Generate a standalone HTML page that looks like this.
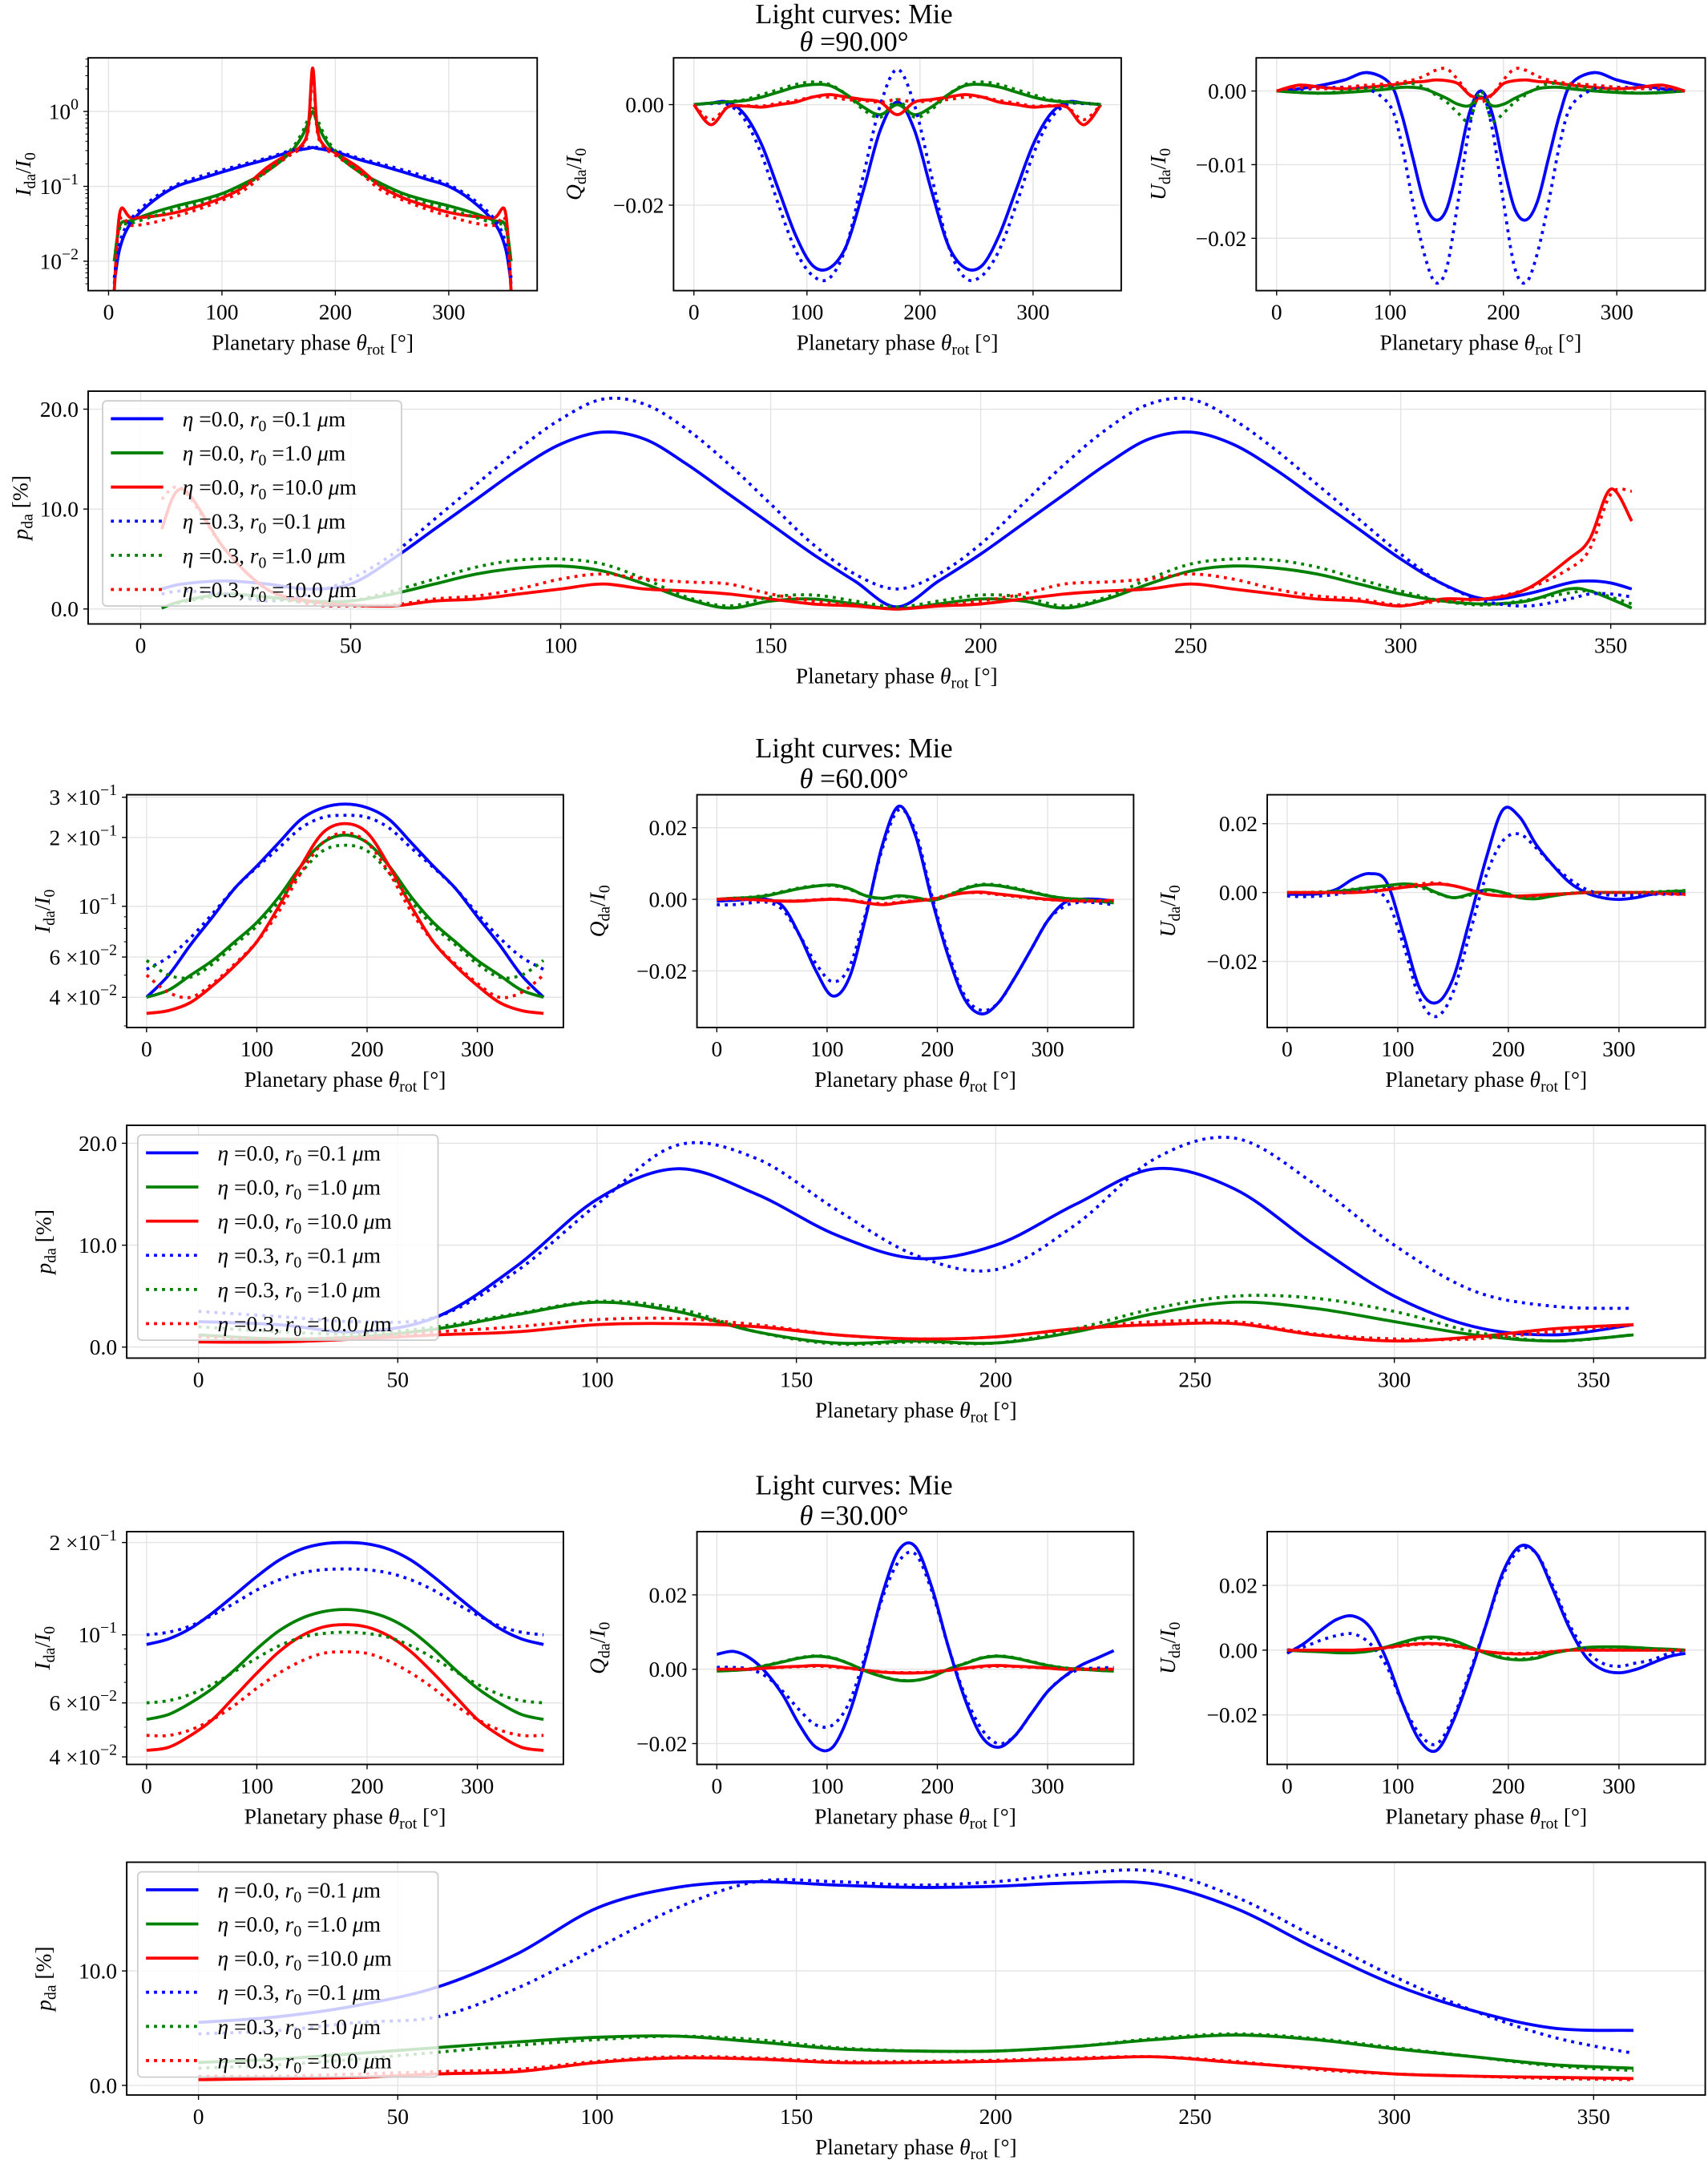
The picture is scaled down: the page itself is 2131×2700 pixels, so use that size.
<!DOCTYPE html>
<html><head><meta charset="utf-8"><title>Light curves: Mie</title>
<style>html,body{margin:0;padding:0;background:#fff}svg{display:block}text{font-family:"Liberation Serif","DejaVu Serif",serif;fill:#000}</style>
</head><body>
<svg id="fig" xmlns="http://www.w3.org/2000/svg" width="2131" height="2700" viewBox="0 0 1240 1571.1" preserveAspectRatio="none"></svg>
<script>
// ---------------- DATA ----------------
const x15 = [0,15,30,45,60,75,90,105,120,135,150,165,180,195,210,225,240,255,270,285,300,315,330,345,360];
const x20 = [0,20,40,60,80,100,120,140,160,180,200,220,240,260,280,300,320,340,360];
// Row 1 (theta = 90)
const r1I_x = [5,10,20,40,60,80,100,120,140,160,170,176,180,184,190,200,220,240,260,280,300,320,340,350,355];
const r1I_b0 = [0.005,0.015,0.033,0.065,0.1,0.125,0.155,0.19,0.23,0.29,0.31,0.32,0.33,0.32,0.31,0.29,0.23,0.19,0.155,0.125,0.1,0.065,0.033,0.015,0.005];
const r1I_g0 = [0.01,0.03,0.035,0.045,0.055,0.065,0.08,0.11,0.16,0.28,0.45,0.7,1.0,0.7,0.45,0.28,0.16,0.11,0.08,0.065,0.055,0.045,0.035,0.03,0.01];
const r1I_r0 = [0.004,0.045,0.038,0.04,0.045,0.055,0.07,0.1,0.18,0.28,0.35,0.6,3.8,0.6,0.35,0.28,0.18,0.1,0.07,0.055,0.045,0.04,0.038,0.045,0.004];
const r1I_b3 = [0.006,0.018,0.037,0.07,0.105,0.135,0.165,0.2,0.24,0.3,0.32,0.33,0.34,0.33,0.32,0.3,0.24,0.2,0.165,0.135,0.105,0.07,0.037,0.018,0.006];
const r1I_g3 = [0.01,0.028,0.032,0.04,0.05,0.06,0.078,0.105,0.16,0.3,0.5,0.8,1.1,0.8,0.5,0.3,0.16,0.105,0.078,0.06,0.05,0.04,0.032,0.028,0.01];
const r1I_r3 = [0.004,0.035,0.03,0.033,0.04,0.05,0.065,0.09,0.16,0.26,0.33,0.55,3.0,0.55,0.33,0.26,0.16,0.09,0.065,0.05,0.04,0.033,0.03,0.035,0.004];

const r1Q_b0 = [0,0.0003,0.0005,-0.002,-0.008,-0.017,-0.026,-0.032,-0.0325,-0.028,-0.017,-0.005,0.0005,-0.005,-0.017,-0.028,-0.0325,-0.032,-0.026,-0.017,-0.008,-0.002,0.0005,0.0003,0];
const r1Q_g0 = [0,0.0003,0.0005,0.0008,0.0015,0.0025,0.0035,0.004,0.0038,0.002,-0.0005,-0.002,0,-0.002,-0.0005,0.002,0.0038,0.004,0.0035,0.0025,0.0015,0.0008,0.0005,0.0003,0];
const r1Q_r0 = [0,-0.004,-0.0005,-0.0003,-0.0005,0,0.0005,0.0015,0.002,0.0015,0.001,0.0005,-0.002,0.0005,0.001,0.0015,0.002,0.0015,0.0005,0,-0.0005,-0.0003,-0.0005,-0.004,0];
const r1Q_b3 = [0,0.0002,0.0,-0.003,-0.01,-0.02,-0.029,-0.034,-0.0345,-0.028,-0.014,0.0,0.007,0.0,-0.014,-0.028,-0.0345,-0.034,-0.029,-0.02,-0.01,-0.003,0.0,0.0002,0];
const r1Q_g3 = [0,0.0003,0.0006,0.001,0.002,0.003,0.004,0.0045,0.004,0.002,-0.001,-0.0025,0.001,-0.0025,-0.001,0.002,0.004,0.0045,0.004,0.003,0.002,0.001,0.0006,0.0003,0];
const r1Q_r3 = [0,-0.003,-0.0005,-0.0002,-0.0003,0.0003,0.0008,0.0015,0.0015,0.001,0.0008,0.0005,0.001,0.0005,0.0008,0.001,0.0015,0.0015,0.0008,0.0003,-0.0003,-0.0002,-0.0005,-0.003,0];

const r1U_x = [0,20,40,60,80,100,110,120,130,140,150,160,170,180,190,200,210,220,230,240,250,260,280,300,320,340,360];
const r1U_b0 = [0,0.0003,0.0008,0.0015,0.0025,0.001,-0.003,-0.009,-0.015,-0.0175,-0.016,-0.01,-0.003,0,-0.003,-0.01,-0.016,-0.0175,-0.015,-0.009,-0.003,0.001,0.0025,0.0015,0.0008,0.0003,0];
const r1U_g0 = [0,-0.0002,-0.0003,-0.0002,0,0.0003,0.0005,0.0005,0.0003,-0.0003,-0.001,-0.0018,-0.002,-0.0008,-0.002,-0.0018,-0.001,-0.0003,0.0003,0.0005,0.0005,0.0003,0,-0.0002,-0.0003,-0.0002,0];
const r1U_r0 = [0,0.0008,0.0005,0.0003,0.0005,0.0008,0.001,0.0012,0.0013,0.0015,0.0014,0.001,-0.0005,-0.001,-0.0005,0.001,0.0014,0.0015,0.0013,0.0012,0.001,0.0008,0.0005,0.0003,0.0005,0.0008,0];
const r1U_b3 = [0,0.0002,0.0004,0.0005,0.0003,-0.002,-0.007,-0.015,-0.022,-0.026,-0.024,-0.015,-0.005,0,-0.005,-0.015,-0.024,-0.026,-0.022,-0.015,-0.007,-0.002,0.0003,0.0005,0.0004,0.0002,0];
const r1U_g3 = [0,-0.0002,-0.0003,0,0.0003,0.0007,0.001,0.001,0.0005,-0.0005,-0.0015,-0.003,-0.004,0.0,-0.004,-0.003,-0.0015,-0.0005,0.0005,0.001,0.001,0.0007,0.0003,0,-0.0003,-0.0002,0];
const r1U_r3 = [0,0.0005,0.0003,0.0005,0.0008,0.001,0.0012,0.0015,0.002,0.0028,0.003,0.0015,-0.0005,-0.0015,-0.0005,0.0015,0.003,0.0028,0.002,0.0015,0.0012,0.001,0.0008,0.0005,0.0003,0.0005,0];

const r1P_x = [5,10,20,30,40,50,60,70,80,90,100,110,120,130,140,150,160,170,180,190,200,210,220,230,240,250,260,270,280,290,300,310,320,330,340,345,350,355];
const r1P_b0 = [2,2.5,2.8,2.5,2.0,2.5,5,8,11,14,16.5,17.7,17,14.5,11.5,8.5,5.5,2.8,0.2,2.8,5.5,8.5,11.5,14.5,17,17.7,16.5,14,11,8,5,2.5,1,1.5,2.6,2.8,2.6,2];
const r1P_g0 = [0.1,0.8,1.5,1.2,0.8,0.8,1.5,2.5,3.5,4.1,4.3,3.8,2.5,1,0.1,0.8,1,0.5,0,0.5,1,0.8,0.1,1,2.5,3.8,4.3,4.1,3.5,2.5,1.5,0.8,0.5,0.8,2.0,1.8,1,0.1];
const r1P_r0 = [8,12,6,2,0.8,0.4,0.3,0.8,1.0,1.5,2.0,2.5,2.0,1.8,1.5,1.0,0.5,0.3,0,0.3,0.5,1.0,1.5,1.8,2.0,2.5,2.0,1.5,1.0,0.8,0.3,1.0,1.0,2.0,5,7,12,8.8];
const r1P_b3 = [1.5,1.8,1.5,0.8,1.5,3,5.5,9,12.5,16,19,21,20.5,18,14.5,10.5,6.5,3.5,2,3.5,6.5,10.5,14.5,18,20.5,21,19,16,12.5,9,5.5,2.5,0.8,0.3,1,1.5,1.5,1.2];
const r1P_g3 = [0.1,0.7,1.3,1.0,0.7,0.8,1.8,3,4.2,4.9,5,4.5,3,1.2,0.3,1.2,1.4,0.8,0.2,0.8,1.4,1.2,0.3,1.2,3,4.5,5,4.9,4.2,3,1.8,0.8,0.4,0.9,1.6,1.8,1.2,0.5];
const r1P_r3 = [11,12,6,2,0.5,0.3,0.4,1,1.3,2,3,3.5,3,2.7,2.5,1.5,0.8,0.4,0,0.4,0.8,1.5,2.5,2.7,3,3.5,3,2,1.3,1,0.4,0.8,1,2,4,6,11.5,11.8];

// Row 2 (theta = 60)
const r2I_b0 = [0.04,0.05,0.068,0.09,0.12,0.15,0.19,0.24,0.27,0.28,0.27,0.24,0.19,0.15,0.12,0.09,0.068,0.05,0.04];
const r2I_g0 = [0.04,0.043,0.05,0.058,0.07,0.085,0.11,0.15,0.19,0.205,0.19,0.15,0.11,0.085,0.07,0.058,0.05,0.043,0.04];
const r2I_r0 = [0.034,0.035,0.038,0.045,0.055,0.07,0.1,0.15,0.21,0.23,0.21,0.15,0.1,0.07,0.055,0.045,0.038,0.035,0.034];
const r2I_b3 = [0.053,0.06,0.073,0.093,0.12,0.148,0.18,0.22,0.245,0.25,0.245,0.22,0.18,0.148,0.12,0.093,0.073,0.06,0.053];
const r2I_g3 = [0.058,0.05,0.049,0.056,0.068,0.082,0.105,0.14,0.175,0.185,0.175,0.14,0.105,0.082,0.068,0.056,0.049,0.05,0.058];
const r2I_r3 = [0.05,0.042,0.04,0.046,0.056,0.07,0.095,0.14,0.19,0.21,0.19,0.14,0.095,0.07,0.056,0.046,0.04,0.042,0.05];

const r2Q_b0 = [-0.0005,-0.0003,0,0,-0.002,-0.01,-0.02,-0.027,-0.022,-0.005,0.015,0.026,0.018,0,-0.016,-0.028,-0.032,-0.029,-0.022,-0.014,-0.006,-0.001,0,0,-0.0005];
const r2Q_g0 = [0,0.0003,0.0005,0.001,0.002,0.003,0.0037,0.004,0.003,0.001,0.0003,0.001,0.0005,-0.0003,0.001,0.003,0.004,0.0038,0.003,0.002,0.001,0.0003,0,-0.0005,-0.001];
const r2Q_r0 = [0,0.0002,0,-0.0003,-0.0005,-0.0005,-0.0002,0,-0.0003,-0.001,-0.0015,-0.001,-0.0005,0,0.001,0.0018,0.002,0.0015,0.001,0.0005,0,-0.0003,-0.0005,-0.0005,-0.0003];
const r2Q_b3 = [-0.0015,-0.0015,-0.001,-0.0008,-0.003,-0.01,-0.018,-0.023,-0.019,-0.004,0.014,0.025,0.019,0.001,-0.015,-0.027,-0.031,-0.029,-0.022,-0.014,-0.006,-0.002,-0.0008,-0.001,-0.0015];
const r2Q_g3 = [0,0.0003,0.0006,0.0012,0.0022,0.0032,0.0038,0.0038,0.0028,0.001,0.0002,0.0008,0.0004,-0.0002,0.0012,0.0032,0.0042,0.004,0.0032,0.0022,0.0011,0.0003,0,-0.0004,-0.0008];
const r2Q_r3 = [0,0,-0.0002,-0.0004,-0.0005,-0.0004,-0.0001,0.0001,-0.0002,-0.0008,-0.0012,-0.0008,-0.0003,0.0002,0.0012,0.0018,0.0018,0.0013,0.0008,0.0003,-0.0001,-0.0003,-0.0004,-0.0004,-0.0002];

const r2U_b0 = [-0.0005,-0.0005,-0.0003,0.001,0.004,0.0055,0.003,-0.012,-0.028,-0.032,-0.025,-0.008,0.01,0.024,0.022,0.014,0.008,0.003,0,-0.0015,-0.002,-0.0015,-0.0005,0,0];
const r2U_g0 = [0,0,0,0.0003,0.0008,0.0015,0.002,0.0025,0.002,0,-0.0015,-0.0005,0.0008,0,-0.0015,-0.0018,-0.001,-0.0003,0,0,0,0,0,0.0003,0.0005];
const r2U_r0 = [0,0,0,0,0,0.0003,0.0008,0.0015,0.002,0.0025,0.002,0.0008,-0.0005,-0.001,-0.001,-0.0008,-0.0005,-0.0003,0,0,0,0,0,-0.0003,-0.0005];
const r2U_b3 = [-0.001,-0.0012,-0.001,-0.0005,0.0003,0.0005,-0.002,-0.015,-0.031,-0.036,-0.029,-0.012,0.005,0.015,0.017,0.013,0.008,0.004,0.001,-0.0005,-0.0008,-0.0008,-0.0005,-0.0005,-0.0003];
const r2U_g3 = [0,0,0.0002,0.0005,0.001,0.0015,0.0018,0.002,0.0015,-0.0002,-0.0015,-0.0008,0.0005,0,-0.0012,-0.0015,-0.0008,-0.0002,0,0,0,0,0.0002,0.0004,0.0006];
const r2U_r3 = [0,0,0,0,0.0002,0.0005,0.001,0.0018,0.0025,0.0028,0.002,0.0008,-0.0005,-0.001,-0.0012,-0.001,-0.0006,-0.0003,0,0,0,0,-0.0002,-0.0004,-0.0006];

const r2P_b0 = [2.5,2.2,1.5,3,8,14.5,17.5,15,11,8.7,10,14,17.5,15.5,10,5,2.0,1.2,2.2];
const r2P_g0 = [1.2,0.8,1.0,1.8,3.2,4.4,3.5,1.5,0.4,0.6,0.4,1.5,3.3,4.4,3.8,2.5,1.2,0.6,1.2];
const r2P_r0 = [0.5,0.5,0.8,1.2,1.5,2.2,2.3,2.0,1.2,0.8,1.0,1.8,2.2,2.3,1.2,0.6,1.0,1.8,2.2];
const r2P_b3 = [3.5,3.0,2.5,3,7.5,14,19.8,18.5,13.5,9,7.6,12,18.5,20.5,16,10,5.5,4,3.8];
const r2P_g3 = [2,1.5,1.3,2,3.3,4.5,3.8,1.5,0.3,0.5,0.4,1.8,3.8,5,4.8,3.5,1.5,0.6,1.2];
const r2P_r3 = [1,0.8,1,1.5,2,2.7,2.8,2.2,1.2,0.8,1.0,1.8,2.5,2.5,1.3,0.8,0.8,1.5,2.2];

// Row 3 (theta = 30)
const r3I_b0 = [0.093,0.097,0.105,0.118,0.135,0.155,0.175,0.19,0.198,0.2,0.198,0.19,0.175,0.155,0.135,0.118,0.105,0.097,0.093];
const r3I_g0 = [0.053,0.055,0.06,0.067,0.077,0.09,0.103,0.113,0.119,0.121,0.119,0.113,0.103,0.09,0.077,0.067,0.06,0.055,0.053];
const r3I_r0 = [0.042,0.043,0.047,0.053,0.063,0.075,0.088,0.099,0.106,0.108,0.106,0.099,0.088,0.075,0.063,0.053,0.047,0.043,0.042];
const r3I_b3 = [0.1,0.102,0.107,0.116,0.127,0.14,0.151,0.159,0.163,0.164,0.163,0.159,0.151,0.14,0.127,0.116,0.107,0.102,0.1];
const r3I_g3 = [0.06,0.061,0.064,0.069,0.076,0.084,0.092,0.098,0.101,0.102,0.101,0.098,0.092,0.084,0.076,0.069,0.064,0.061,0.06];
const r3I_r3 = [0.047,0.047,0.049,0.053,0.059,0.067,0.075,0.082,0.087,0.088,0.087,0.082,0.075,0.067,0.059,0.053,0.049,0.047,0.047];

const r3Q_b0 = [0.004,0.0048,0.003,-0.001,-0.007,-0.015,-0.021,-0.021,-0.012,0.003,0.02,0.032,0.033,0.022,0.006,-0.008,-0.018,-0.021,-0.018,-0.012,-0.006,-0.002,0.001,0.003,0.005];
const r3Q_g0 = [-0.0005,-0.0003,0,0.001,0.002,0.003,0.0035,0.003,0.0015,-0.0005,-0.002,-0.003,-0.003,-0.002,0,0.0015,0.003,0.0035,0.003,0.002,0.001,0.0003,0,-0.0003,-0.0005];
const r3Q_r0 = [0,0,0,0.0003,0.0006,0.0008,0.001,0.0008,0.0003,-0.0003,-0.0008,-0.001,-0.001,-0.0008,-0.0003,0.0003,0.0008,0.001,0.0008,0.0006,0.0003,0,0,0,0];
const r3Q_b3 = [0.0005,0.0005,0,-0.002,-0.006,-0.011,-0.015,-0.015,-0.009,0.004,0.019,0.029,0.031,0.021,0.006,-0.007,-0.016,-0.02,-0.018,-0.012,-0.006,-0.002,0,0.0003,0.0005];
const r3Q_g3 = [-0.0003,-0.0002,0.0001,0.0011,0.0021,0.0031,0.0036,0.0031,0.0015,-0.0004,-0.0019,-0.0029,-0.003,-0.002,0,0.0016,0.0031,0.0036,0.0031,0.0021,0.0011,0.0004,0,-0.0002,-0.0003];
const r3Q_r3 = [0,0,0.0001,0.0003,0.0005,0.0007,0.0008,0.0006,0.0002,-0.0003,-0.0007,-0.0009,-0.0009,-0.0007,-0.0003,0.0002,0.0006,0.0008,0.0007,0.0005,0.0003,0.0001,0,0,0];

const r3U_b0 = [-0.001,0.002,0.006,0.0095,0.0105,0.007,-0.003,-0.017,-0.028,-0.031,-0.022,-0.008,0.008,0.024,0.032,0.03,0.019,0.007,-0.002,-0.006,-0.007,-0.006,-0.004,-0.002,-0.001];
const r3U_g0 = [0,-0.0003,-0.0005,-0.0008,-0.0008,-0.0003,0.001,0.0025,0.0038,0.004,0.003,0.001,-0.001,-0.0025,-0.003,-0.0025,-0.001,0,0.0008,0.001,0.001,0.0008,0.0005,0.0003,0];
const r3U_r0 = [0,0,0,0,0,0.0003,0.0008,0.0015,0.002,0.002,0.0015,0.0005,-0.0005,-0.001,-0.0012,-0.001,-0.0005,0,0,0,0,0,0,0,0];
const r3U_b3 = [0,0.001,0.003,0.0045,0.005,0.002,-0.005,-0.017,-0.026,-0.029,-0.021,-0.007,0.008,0.023,0.031,0.03,0.02,0.008,0,-0.004,-0.005,-0.004,-0.003,-0.001,0];
const r3U_g3 = [0,-0.0002,-0.0004,-0.0006,-0.0006,-0.0002,0.001,0.0023,0.0034,0.0036,0.0027,0.0009,-0.0009,-0.0022,-0.0027,-0.0022,-0.0009,0,0.0007,0.0009,0.0009,0.0007,0.0004,0.0002,0];
const r3U_r3 = [0,0,0,0,0,0.0003,0.0007,0.0013,0.0018,0.0018,0.0013,0.0004,-0.0005,-0.0009,-0.001,-0.0008,-0.0004,0,0,0,0,0,0,0,0];

const r3P_b0 = [5.5,6,7,8.6,11.5,15.5,17.3,17.8,17.5,17.3,17.4,17.7,17.6,15.5,12,8.8,6.5,5,4.8];
const r3P_g0 = [2,2.3,2.8,3.3,3.8,4.2,4.3,3.8,3.2,3,3,3.4,4,4.4,4,3.2,2.5,1.8,1.5];
const r3P_r0 = [0.5,0.6,0.7,1,1.2,2,2.4,2.3,2,2,2.1,2.3,2.5,2,1.5,1,0.8,0.7,0.6];
const r3P_b3 = [4.5,4.8,5.5,6,8.5,12,15.5,17.8,17.8,17.5,17.8,18.5,18.7,16.5,13,9.5,6.5,4.2,2.8];
const r3P_g3 = [1.5,1.8,2.3,2.9,3.5,4,4.3,4,3.3,3,3,3.4,4.1,4.5,4.1,3.3,2.5,1.7,1.3];
const r3P_r3 = [0.8,0.8,1,1.2,1.4,2.1,2.5,2.4,2.1,2.1,2.2,2.4,2.5,2.1,1.4,1,0.8,0.6,0.5];

const smallXTicks = [0,100,200,300];
const bigXTicks = [0,50,100,150,200,250,300,350];
const legendLabels = [["0.0","0.1"],["0.0","1.0"],["0.0","10.0"],["0.3","0.1"],["0.3","1.0"],["0.3","10.0"]];
const titleThetas = ["90.00","60.00","30.00"];

// ---------------- DRAWING ----------------
const NS = 'http://www.w3.org/2000/svg';
const svg = document.getElementById('fig');
const defs = document.createElementNS(NS, 'defs');
svg.appendChild(defs);
const COLORS = ['#0000ff','#008000','#ff0000','#0000ff','#008000','#ff0000'];
let clipId = 0;

function mk(tag, attrs, parent) {
  const e = document.createElementNS(NS, tag);
  for (const k in attrs) e.setAttribute(k, attrs[k]);
  (parent || svg).appendChild(e);
  return e;
}
function smooth(pts) {
  let d = 'M' + pts[0][0].toFixed(2) + ',' + pts[0][1].toFixed(2);
  for (let i = 0; i < pts.length - 1; i++) {
    const p0 = pts[Math.max(0, i - 1)], p1 = pts[i], p2 = pts[i + 1], p3 = pts[Math.min(pts.length - 1, i + 2)];
    const c1x = p1[0] + (p2[0] - p0[0]) / 6, c1y = p1[1] + (p2[1] - p0[1]) / 6;
    const c2x = p2[0] - (p3[0] - p1[0]) / 6, c2y = p2[1] - (p3[1] - p1[1]) / 6;
    d += 'C' + c1x.toFixed(2) + ',' + c1y.toFixed(2) + ' ' + c2x.toFixed(2) + ',' + c2y.toFixed(2) + ' ' + p2[0].toFixed(2) + ',' + p2[1].toFixed(2);
  }
  return d;
}
function sub(s) { return '<tspan dy="3.5" font-size="11.5">' + s + '</tspan><tspan dy="-3.5">'; }
const XLAB = 'Planetary phase <tspan font-style="italic">θ</tspan>' + sub('rot') + ' [°]</tspan>';

function panel(p) {
  const g = mk('g', {});
  
  
  const W = p.x1 - p.x0, H = p.y1 - p.y0;
  const sx = v => p.x0 + (v - p.xd[0]) / (p.xd[1] - p.xd[0]) * W;
  const sy = p.log
    ? v => p.y1 - (Math.log10(v) - Math.log10(p.yd[0])) / (Math.log10(p.yd[1]) - Math.log10(p.yd[0])) * H
    : v => p.y1 - (v - p.yd[0]) / (p.yd[1] - p.yd[0]) * H;
  p.xt.forEach(t => { const l = mk('line', {x1: sx(t), x2: sx(t), y1: p.y0, y2: p.y1, stroke: '#e3e3e3', 'stroke-width': 0.8}, g);   });
  p.yt.forEach(t => { const l = mk('line', {x1: p.x0, x2: p.x1, y1: sy(t), y2: sy(t), stroke: '#e3e3e3', 'stroke-width': 0.8}, g);   });
  const cid = 'clip' + (clipId++);
  const cp = mk('clipPath', {id: cid}, defs);
  mk('rect', {x: p.x0, y: p.y0, width: W, height: H}, cp);
  const sg = mk('g', {'clip-path': 'url(#' + cid + ')'}, g);
  p.series.forEach((s, i) => {
    const pts = s.x.map((xv, j) => [sx(xv), sy(s.y[j])]);
    const path = mk('path', {d: smooth(pts), fill: 'none', stroke: COLORS[i], 'stroke-width': 2.2, 'stroke-linejoin': 'round'}, sg);
    if (i >= 3) path.setAttribute('stroke-dasharray', '2.2,3.6');
    
    
  });
  const fr = mk('rect', {x: p.x0, y: p.y0, width: W, height: H, fill: 'none', stroke: '#000', 'stroke-width': 1.1}, g);
  
  
  p.xt.forEach(t => {
    mk('line', {x1: sx(t), x2: sx(t), y1: p.y1, y2: p.y1 + 3.5, stroke: '#000', 'stroke-width': 0.8}, g);
    const tx = mk('text', {x: sx(t), y: p.y1 + 21, 'font-size': 16, 'text-anchor': 'middle'}, g);
    tx.textContent = t;
    
    
  });
  p.yt.forEach((t, i) => {
    mk('line', {x1: p.x0 - 3.5, x2: p.x0, y1: sy(t), y2: sy(t), stroke: '#000', 'stroke-width': 0.8}, g);
    const tx = mk('text', {x: p.x0 - 7, y: sy(t) + 5.5, 'font-size': 16, 'text-anchor': 'end'}, g);
    tx.innerHTML = p.ytl[i];
    
    
  });
  if (p.log) {
    const lo = Math.floor(Math.log10(p.yd[0])), hi = Math.ceil(Math.log10(p.yd[1]));
    for (let d = lo; d <= hi; d++) for (let k = 2; k <= 9; k++) {
      const v = k * Math.pow(10, d);
      if (v > p.yd[0] && v < p.yd[1]) mk('line', {x1: p.x0 - 2, x2: p.x0, y1: sy(v), y2: sy(v), stroke: '#000', 'stroke-width': 0.6}, g);
    }
  }
  const xl = mk('text', {x: (p.x0 + p.x1) / 2, y: p.y1 + 43, 'font-size': 16, 'text-anchor': 'middle'}, g);
  xl.innerHTML = XLAB;
  
  
  const yc = (p.y0 + p.y1) / 2;
  const yl = mk('text', {x: p.ylx, y: yc, 'font-size': 16, 'text-anchor': 'middle', transform: 'rotate(-90 ' + p.ylx + ' ' + yc + ')'}, g);
  yl.innerHTML = p.ylab;
  
  
  if (p.legend) {
    const L = p.legend;
    const lg = mk('g', {}, g);
    
    
    mk('rect', {x: L.x, y: L.y, width: L.w, height: 149, rx: 3, fill: '#fff', 'fill-opacity': 0.8, stroke: '#cccccc', 'stroke-width': 1}, lg);
    legendLabels.forEach((lab, i) => {
      const yy = L.y + 13 + i * 24.8;
      const ln = mk('line', {x1: L.x + 6, x2: L.x + 44, y1: yy, y2: yy, stroke: COLORS[i], 'stroke-width': 2.2}, lg);
      if (i >= 3) ln.setAttribute('stroke-dasharray', '2.2,3.6');
      
      
      const tx = mk('text', {x: L.x + 58, y: yy + 5.5, 'font-size': 16}, lg);
      tx.innerHTML = '<tspan font-style="italic">η</tspan> =' + lab[0] + ', <tspan font-style="italic">r</tspan>' + sub('0') + ' =' + lab[1] + ' <tspan font-style="italic">μ</tspan>m</tspan>';
      
      
    });
  }
}
function ser(x, arrs) {
  const keys = ['eta0-r0.1', 'eta0-r1', 'eta0-r10', 'eta0.3-r0.1', 'eta0.3-r1', 'eta0.3-r10'];
  return arrs.map((a, i) => ({x: x, y: a, key: keys[i]}));
}
const sup = (m, e) => (m ? m + '×' : '') + '10<tspan dy="-7" font-size="11.5">' + e + '</tspan>';
const YI = '<tspan font-style="italic">I</tspan>' + sub('da') + '/<tspan font-style="italic">I</tspan>' + sub('0') + '</tspan></tspan>';
const YQ = '<tspan font-style="italic">Q</tspan>' + sub('da') + '/<tspan font-style="italic">I</tspan>' + sub('0') + '</tspan></tspan>';
const YU = '<tspan font-style="italic">U</tspan>' + sub('da') + '/<tspan font-style="italic">I</tspan>' + sub('0') + '</tspan></tspan>';
const YP = '<tspan font-style="italic">p</tspan>' + sub('da') + ' [%]</tspan>';
const SXD = [-18, 378];

[[10, 30], [543, 565], [1078, 1100]].forEach((ty, i) => {
  const t1 = mk('text', {x: 620, y: ty[0] + 7, 'font-size': 20, 'text-anchor': 'middle'});
  t1.textContent = 'Light curves: Mie';
  
  
  const t2 = mk('text', {x: 620, y: ty[1] + 7, 'font-size': 20, 'text-anchor': 'middle'});
  t2.innerHTML = '<tspan font-style="italic">θ</tspan> =' + titleThetas[i] + '°';
  
  
});

panel({name: 'intensity-panel-90', x0: 64, x1: 390, y0: 42, y1: 211, xd: SXD, yd: [0.00405, 5.2], log: true, xt: smallXTicks, yt: [1, 0.1, 0.01], ytl: [sup('', '0'), sup('', '−1'), sup('', '−2')], ylx: 22, ylab: YI,
  series: ser(r1I_x, [r1I_b0, r1I_g0, r1I_r0, r1I_b3, r1I_g3, r1I_r3])});
panel({name: 'q-panel-90', x0: 489, x1: 814, y0: 42, y1: 211, xd: SXD, yd: [-0.037, 0.0093], xt: smallXTicks, yt: [0, -0.02], ytl: ['0.00', '−0.02'], ylx: 422, ylab: YQ,
  series: ser(x15, [r1Q_b0, r1Q_g0, r1Q_r0, r1Q_b3, r1Q_g3, r1Q_r3])});
panel({name: 'u-panel-90', x0: 912, x1: 1238, y0: 42, y1: 211, xd: SXD, yd: [-0.0271, 0.0045], xt: smallXTicks, yt: [0, -0.01, -0.02], ytl: ['0.00', '−0.01', '−0.02'], ylx: 846, ylab: YU,
  series: ser(r1U_x, [r1U_b0, r1U_g0, r1U_r0, r1U_b3, r1U_g3, r1U_r3])});
panel({name: 'polarization-panel-90', x0: 64, x1: 1238, y0: 284, y1: 453, xd: [-12.5, 372.5], yd: [-1.5, 21.8], xt: bigXTicks, yt: [0, 10, 20], ytl: ['0.0', '10.0', '20.0'], ylx: 20, ylab: YP,
  series: ser(r1P_x, [r1P_b0, r1P_g0, r1P_r0, r1P_b3, r1P_g3, r1P_r3]), legend: {x: 74.5, y: 291, w: 217}});

panel({name: 'intensity-panel-60', x0: 92, x1: 409, y0: 577, y1: 746, xd: SXD, yd: [0.0295, 0.3076], log: true, xt: smallXTicks, yt: [0.3, 0.2, 0.1, 0.06, 0.04], ytl: [sup('3 ', '−1'), sup('2 ', '−1'), sup('', '−1'), sup('6 ', '−2'), sup('4 ', '−2')], ylx: 36, ylab: YI,
  series: ser(x20, [r2I_b0, r2I_g0, r2I_r0, r2I_b3, r2I_g3, r2I_r3])});
panel({name: 'q-panel-60', x0: 506, x1: 823, y0: 577, y1: 746, xd: SXD, yd: [-0.0358, 0.0292], xt: smallXTicks, yt: [0.02, 0, -0.02], ytl: ['0.02', '0.00', '−0.02'], ylx: 439, ylab: YQ,
  series: ser(x15, [r2Q_b0, r2Q_g0, r2Q_r0, r2Q_b3, r2Q_g3, r2Q_r3])});
panel({name: 'u-panel-60', x0: 920, x1: 1238, y0: 577, y1: 746, xd: SXD, yd: [-0.0392, 0.0284], xt: smallXTicks, yt: [0.02, 0, -0.02], ytl: ['0.02', '0.00', '−0.02'], ylx: 853, ylab: YU,
  series: ser(x15, [r2U_b0, r2U_g0, r2U_r0, r2U_b3, r2U_g3, r2U_r3])});
panel({name: 'polarization-panel-60', x0: 92, x1: 1238, y0: 817, y1: 986, xd: [-18, 378], yd: [-1.08, 21.76], xt: bigXTicks, yt: [0, 10, 20], ytl: ['0.0', '10.0', '20.0'], ylx: 37, ylab: YP,
  series: ser(x20, [r2P_b0, r2P_g0, r2P_r0, r2P_b3, r2P_g3, r2P_r3]), legend: {x: 100, y: 824, w: 218}});

panel({name: 'intensity-panel-30', x0: 92, x1: 409, y0: 1112, y1: 1281, xd: SXD, yd: [0.0378, 0.217], log: true, xt: smallXTicks, yt: [0.2, 0.1, 0.06, 0.04], ytl: [sup('2 ', '−1'), sup('', '−1'), sup('6 ', '−2'), sup('4 ', '−2')], ylx: 36, ylab: YI,
  series: ser(x20, [r3I_b0, r3I_g0, r3I_r0, r3I_b3, r3I_g3, r3I_r3])});
panel({name: 'q-panel-30', x0: 506, x1: 823, y0: 1112, y1: 1281, xd: SXD, yd: [-0.0256, 0.037], xt: smallXTicks, yt: [0.02, 0, -0.02], ytl: ['0.02', '0.00', '−0.02'], ylx: 439, ylab: YQ,
  series: ser(x15, [r3Q_b0, r3Q_g0, r3Q_r0, r3Q_b3, r3Q_g3, r3Q_r3])});
panel({name: 'u-panel-30', x0: 920, x1: 1238, y0: 1112, y1: 1281, xd: SXD, yd: [-0.0353, 0.0366], xt: smallXTicks, yt: [0.02, 0, -0.02], ytl: ['0.02', '0.00', '−0.02'], ylx: 853, ylab: YU,
  series: ser(x15, [r3U_b0, r3U_g0, r3U_r0, r3U_b3, r3U_g3, r3U_r3])});
panel({name: 'polarization-panel-30', x0: 92, x1: 1238, y0: 1352, y1: 1521, xd: [-18, 378], yd: [-0.84, 19.5], xt: bigXTicks, yt: [0, 10], ytl: ['0.0', '10.0'], ylx: 37, ylab: YP,
  series: ser(x20, [r3P_b0, r3P_g0, r3P_r0, r3P_b3, r3P_g3, r3P_r3]), legend: {x: 100, y: 1359, w: 218}});
</script>
</body></html>
